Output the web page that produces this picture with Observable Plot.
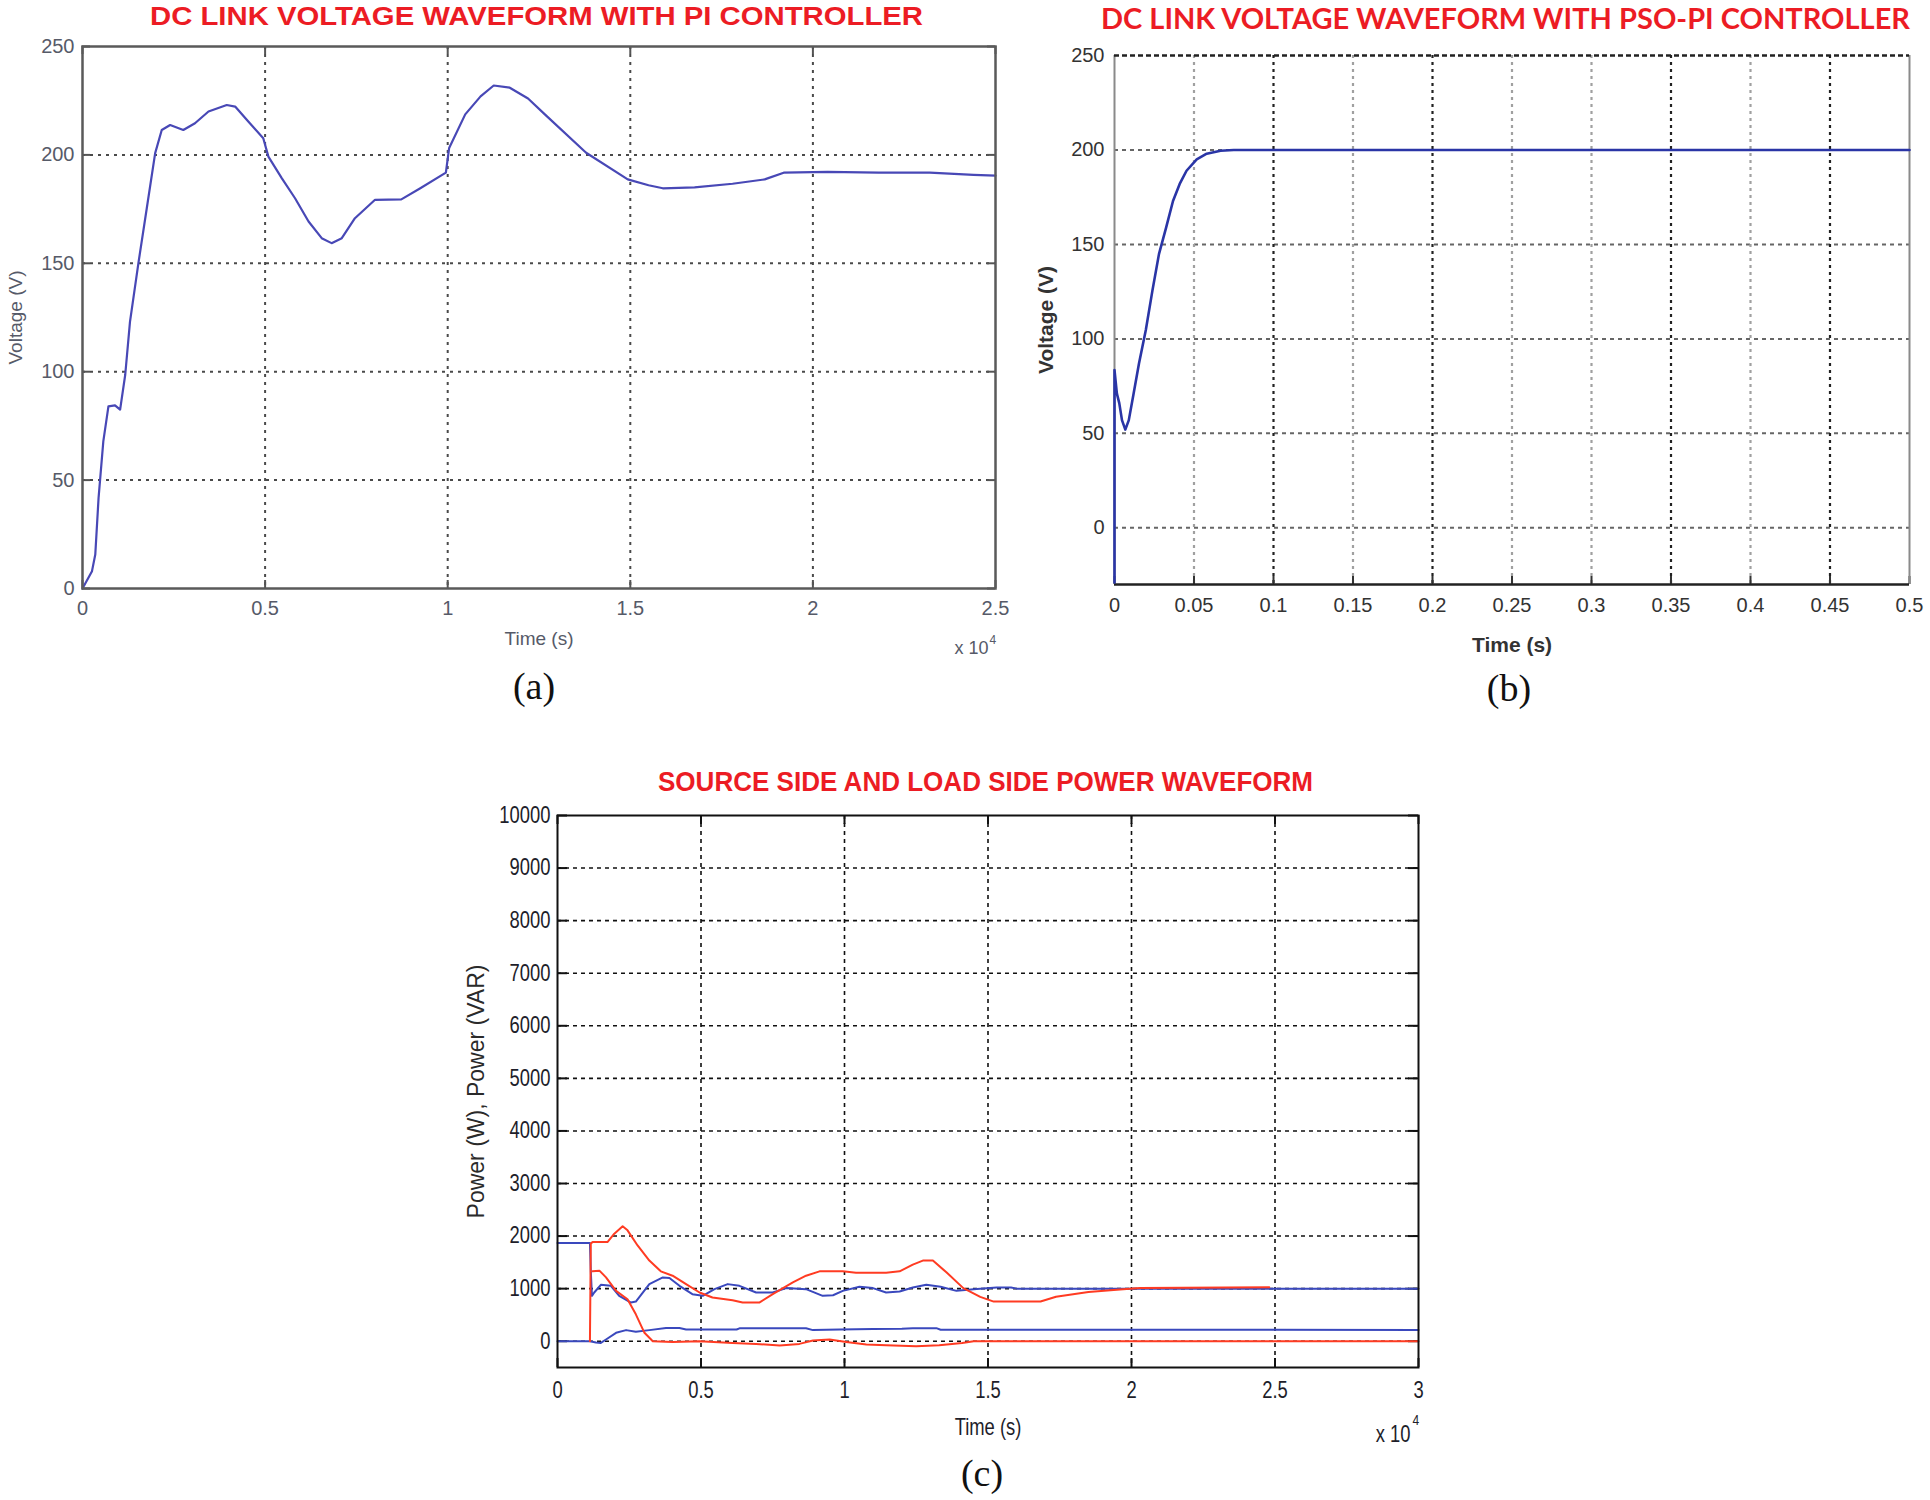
<!DOCTYPE html>
<html>
<head>
<meta charset="utf-8">
<script src="https://cdn.jsdelivr.net/npm/d3@7"></script>
<script src="https://cdn.jsdelivr.net/npm/@observablehq/plot@0.6"></script>
<style>
  html, body { margin: 0; padding: 0; background: #fff; }
  #root { position: relative; width: 1930px; height: 1500px; overflow: hidden; background: #fff; }
  .panel { position: absolute; }
  .panel svg { overflow: visible; max-width: none !important; }
</style>
</head>
<body>
<div id="root"></div>
<script>
// ---------- (a) DC link voltage with PI controller ----------
const piTime = [0, 0.026, 0.035, 0.044, 0.057, 0.071, 0.089, 0.103, 0.117, 0.130, 0.153, 0.176, 0.199, 0.217, 0.24, 0.276, 0.308, 0.345, 0.395, 0.418, 0.454, 0.495, 0.509, 0.546, 0.582, 0.619, 0.655, 0.682, 0.71, 0.746, 0.801, 0.873, 0.925, 0.995, 1.004, 1.048, 1.09, 1.126, 1.17, 1.22, 1.266, 1.379, 1.493, 1.55, 1.589, 1.676, 1.78, 1.868, 1.92, 2.04, 2.18, 2.32, 2.44, 2.5];
const piVolt = [0, 8, 15.7, 41.8, 67.9, 84, 84.5, 82.5, 98.6, 123, 150, 175.4, 200.8, 211.5, 213.8, 211.5, 214.6, 220, 223, 222.3, 215.4, 207.7, 199.2, 189.2, 180, 169.3, 161.6, 159.3, 161.6, 170.8, 179.3, 179.5, 184.6, 191.8, 203.2, 218.7, 227, 232, 231, 226, 218.7, 201, 188.7, 186, 184.6, 185, 186.7, 188.7, 191.8, 192.2, 191.8, 191.8, 190.8, 190.4];
const aXTicks = [0, 0.5, 1, 1.5, 2, 2.5];
const aYTicks = [0, 50, 100, 150, 200, 250];

// ---------- (b) DC link voltage with PSO-PI controller ----------
const psoTime = [0, 0, 0.0015, 0.003, 0.0047, 0.0068, 0.009, 0.012, 0.0154, 0.0197, 0.0239, 0.028, 0.0325, 0.0368, 0.041, 0.0453, 0.0517, 0.058, 0.0667, 0.075, 0.5];
const psoVolt = [-29, 83.5, 71, 66, 57, 52, 57, 71, 87, 104.7, 125.8, 145, 159, 173, 182, 189, 195, 198, 199.6, 200, 200];
const bXTicks = [0, 0.05, 0.1, 0.15, 0.2, 0.25, 0.3, 0.35, 0.4, 0.45, 0.5];
const bYTicks = [0, 50, 100, 150, 200, 250];
const bDarkGridX = [0.1, 0.2, 0.35, 0.45];
const bLightGridX = [0.05, 0.15, 0.25, 0.3, 0.4];

// ---------- (c) Source side and load side power ----------
const bluePTime = [0, 0.113, 0.116, 0.12, 0.128, 0.151, 0.186, 0.215, 0.256, 0.273, 0.32, 0.367, 0.39, 0.425, 0.47, 0.506, 0.547, 0.593, 0.634, 0.692, 0.75, 0.797, 0.866, 0.924, 0.96, 0.994, 1.052, 1.099, 1.145, 1.192, 1.238, 1.285, 1.335, 1.39, 1.45, 1.53, 1.58, 1.6, 3];
const blueP = [1866, 1866, 1342, 863, 927, 1073, 1054, 863, 735, 754, 1086, 1214, 1201, 1054, 895, 863, 990, 1086, 1054, 927, 927, 1010, 990, 863, 875, 958, 1035, 1010, 927, 946, 1022, 1073, 1035, 958, 990, 1022, 1022, 1000, 1000];
const blueQTime = [0, 0.113, 0.134, 0.151, 0.169, 0.204, 0.239, 0.273, 0.32, 0.378, 0.425, 0.448, 0.624, 0.634, 0.866, 0.89, 0.983, 1.099, 1.2, 1.238, 1.32, 1.335, 3];
const blueQ = [0, 0, -26, -32, 32, 160, 211, 179, 211, 250, 250, 222, 222, 245, 245, 211, 222, 232, 238, 248, 248, 218, 215];
const redPTime = [0.113, 0.116, 0.122, 0.174, 0.198, 0.227, 0.244, 0.279, 0.32, 0.36, 0.401, 0.448, 0.495, 0.54, 0.61, 0.645, 0.703, 0.75, 0.82, 0.866, 0.913, 0.994, 1.04, 1.145, 1.192, 1.238, 1.273, 1.308, 1.355, 1.414, 1.473, 1.52, 1.683, 1.737, 1.85, 1.96, 2.03, 2.48];
const redP = [0, 1860, 1885, 1885, 2045, 2185, 2109, 1821, 1534, 1329, 1246, 1086, 927, 831, 780, 735, 735, 895, 1118, 1246, 1329, 1329, 1304, 1304, 1329, 1457, 1534, 1534, 1310, 1010, 843, 754, 754, 847, 938, 984, 1011, 1025];
const redQTime = [0.122, 0.146, 0.169, 0.204, 0.244, 0.273, 0.303, 0.332, 0.401, 0.495, 0.61, 0.692, 0.774, 0.843, 0.89, 0.948, 1.006, 1.076, 1.145, 1.25, 1.33, 1.41, 1.45, 3];
const redQ = [1329, 1342, 1214, 958, 799, 511, 160, 0, -13, 0, -32, -51, -83, -51, 13, 32, -13, -64, -77, -96, -77, -32, 0, 0];
const cXTicks = [0, 0.5, 1, 1.5, 2, 2.5, 3];
const cYTicks = [0, 1000, 2000, 3000, 4000, 5000, 6000, 7000, 8000, 9000, 10000];

const root = document.getElementById("root");
const fmt = d => String(d);

function place(svg, left, top) {
  const d = document.createElement("div");
  d.className = "panel";
  d.style.left = left + "px";
  d.style.top = top + "px";
  d.appendChild(svg);
  root.appendChild(d);
}

// horizontally condense the text elements of a group (emulates a narrow font)
function condense(svg, selector, k) {
  svg.querySelectorAll(selector).forEach(t => {
    const tr = t.getAttribute("transform") || "";
    t.setAttribute("transform", tr + ` scale(${k},1)`);
  });
}

function addText(txt, o) {
  const el = document.createElement("div");
  el.textContent = txt;
  Object.assign(el.style, {
    position: "absolute", whiteSpace: "nowrap", fontFamily: o.font, fontSize: o.size + "px",
    fontWeight: o.weight || "normal", color: o.color, lineHeight: o.size + "px",
    left: "0px", top: (o.cy - (o.center ?? 0.49) * o.size) + "px", transformOrigin: "0 0"
  });
  root.appendChild(el);
  const w = el.getBoundingClientRect().width;
  const s = o.fit ? o.fit / w : 1;
  el.style.left = (o.cx - w * s / 2) + "px";
  el.style.transform = `scaleX(${s})`;
}

// ---------------- Panel (a) ----------------
{
  const W = 1020, H = 700, mL = 82, mT = 46, mR = 25, mB = 112;
  const fw = W - mL - mR, fh = H - mT - mB;
  const grid = {stroke: "#4a4a4a", strokeWidth: 2, strokeDasharray: "3,5"};
  const svg = Plot.plot({
    width: W, height: H, marginLeft: mL, marginTop: mT, marginRight: mR, marginBottom: mB,
    x: {domain: [0, 2.5]}, y: {domain: [0, 250]},
    style: {fontFamily: "'Liberation Sans', Arial, sans-serif", fontSize: "20px", color: "#565a68", background: "transparent", overflow: "visible"},
    marks: [
      Plot.ruleY(aYTicks.slice(1, -1), grid),
      Plot.ruleX(aXTicks.slice(1, -1), grid),
      Plot.ruleX(aXTicks, {insetTop: fh - 8, stroke: "#555", strokeWidth: 2}),
      Plot.ruleX(aXTicks, {insetBottom: fh - 8, stroke: "#555", strokeWidth: 2}),
      Plot.ruleY(aYTicks, {insetRight: fw - 8, stroke: "#555", strokeWidth: 2}),
      Plot.ruleY(aYTicks, {insetLeft: fw - 8, stroke: "#555", strokeWidth: 2}),
      Plot.line(piVolt, {x: piTime, y: piVolt, stroke: "#4848b6", strokeWidth: 2.2}),
      Plot.frame({stroke: "#5a5a5a", strokeWidth: 2.5}),
      Plot.axisX(aXTicks, {tickSize: 0, tickPadding: 12, tickFormat: fmt, label: null}),
      Plot.axisY(aYTicks, {tickSize: 0, tickPadding: 8, tickFormat: fmt, label: null}),
      Plot.text(["Time (s)"], {text: d => d, frameAnchor: "bottom", dy: 50, lineAnchor: "middle", textAnchor: "middle", fontSize: 19}),
      Plot.text(["Voltage (V)"], {text: d => d, frameAnchor: "left", dx: -67, rotate: -90, lineAnchor: "middle", textAnchor: "middle", fontSize: 19}),
      Plot.text(["x 10"], {text: d => d, frameAnchor: "bottom-right", dx: -7, dy: 60, lineAnchor: "middle", textAnchor: "end", fontSize: 18}),
      Plot.text(["4"], {text: d => d, frameAnchor: "bottom-right", dx: -6, dy: 52, lineAnchor: "middle", textAnchor: "start", fontSize: 12})
    ]
  });
  place(svg, 0, 0);
}

// ---------------- Panel (b) ----------------
{
  const W = 930, H = 700, mL = 114, mT = 55, mR = 21, mB = 116;
  const fw = W - mL - mR, fh = H - mT - mB;
  const svg = Plot.plot({
    width: W, height: H, marginLeft: mL, marginTop: mT, marginRight: mR, marginBottom: mB,
    x: {domain: [0, 0.5]}, y: {domain: [-30, 250]},
    style: {fontFamily: "'Liberation Sans', Arial, sans-serif", fontSize: "20px", color: "#333", background: "transparent", overflow: "visible"},
    marks: [
      Plot.ruleY(bYTicks.slice(0, -1), {stroke: "#666", strokeWidth: 2, strokeDasharray: "4,4"}),
      Plot.ruleX(bLightGridX, {stroke: "#a0a0a0", strokeWidth: 2.2, strokeDasharray: "3,4"}),
      Plot.ruleX(bDarkGridX, {stroke: "#222", strokeWidth: 2.2, strokeDasharray: "3,4"}),
      Plot.ruleX(bXTicks, {insetTop: fh - 8, stroke: "#333", strokeWidth: 2}),
      Plot.ruleX([0, 0.5], {stroke: "#8a8a8a", strokeWidth: 2}),
      Plot.ruleY([-30], {stroke: "#222", strokeWidth: 2.5}),
      Plot.ruleY([250], {stroke: "#222", strokeWidth: 2.5, strokeDasharray: "5,3"}),
      Plot.line(psoVolt, {x: psoTime, y: psoVolt, stroke: "#2a35a6", strokeWidth: 2.6}),
      Plot.axisX(bXTicks, {tickSize: 0, tickPadding: 13, tickFormat: fmt, label: null}),
      Plot.axisY(bYTicks, {tickSize: 0, tickPadding: 10, tickFormat: fmt, label: null}),
      Plot.text(["Time (s)"], {text: d => d, frameAnchor: "bottom", dy: 61, lineAnchor: "middle", textAnchor: "middle", fontSize: 21, fontWeight: "bold"}),
      Plot.text(["Voltage (V)"], {text: d => d, frameAnchor: "left", dx: -68, rotate: -90, lineAnchor: "middle", textAnchor: "middle", fontSize: 21, fontWeight: "bold"})
    ]
  });
  place(svg, 1000, 0);
}

// ---------------- Panel (c) ----------------
{
  const W = 1000, H = 720, mL = 117, mT = 55, mR = 22, mB = 113;
  const fw = W - mL - mR, fh = H - mT - mB;
  const grid = {stroke: "#111", strokeWidth: 1.6, strokeDasharray: "4,4"};
  const svg = Plot.plot({
    width: W, height: H, marginLeft: mL, marginTop: mT, marginRight: mR, marginBottom: mB,
    x: {domain: [0, 3]}, y: {domain: [-500, 10000]},
    style: {fontFamily: "'Liberation Sans', Arial, sans-serif", fontSize: "23px", color: "#1e1e2a", background: "transparent", overflow: "visible"},
    marks: [
      Plot.ruleY(cYTicks.slice(0, -1), grid),
      Plot.ruleX(cXTicks.slice(1, -1), grid),
      Plot.ruleX(cXTicks, {insetTop: fh - 9, stroke: "#111", strokeWidth: 2}),
      Plot.ruleX(cXTicks, {insetBottom: fh - 9, stroke: "#111", strokeWidth: 2}),
      Plot.ruleY(cYTicks, {insetRight: fw - 10, stroke: "#111", strokeWidth: 2}),
      Plot.ruleY(cYTicks, {insetLeft: fw - 10, stroke: "#111", strokeWidth: 2}),
      Plot.line(blueP, {x: bluePTime, y: blueP, stroke: "#3a48bd", strokeWidth: 2}),
      Plot.line(blueQ, {x: blueQTime, y: blueQ, stroke: "#3a48bd", strokeWidth: 2}),
      Plot.line(redP, {x: redPTime, y: redP, stroke: "#ff3b22", strokeWidth: 2}),
      Plot.line(redQ, {x: redQTime, y: redQ, stroke: "#ff3b22", strokeWidth: 2}),
      Plot.frame({stroke: "#111", strokeWidth: 2}),
      Plot.axisX(cXTicks, {tickSize: 0, tickPadding: 14, tickFormat: fmt, label: null}),
      Plot.axisY(cYTicks, {tickSize: 0, tickPadding: 7, tickFormat: fmt, label: null}),
      Plot.text(["Time (s)"], {text: d => d, frameAnchor: "bottom", dy: 60, lineAnchor: "middle", textAnchor: "middle", fontSize: 23, className: "narrow"}),
      Plot.text(["Power (W), Power (VAR)"], {text: d => d, frameAnchor: "left", dx: -81, rotate: -90, lineAnchor: "middle", textAnchor: "middle", fontSize: 23, fill: "#2a2a2a"}),
      Plot.text(["x 10"], {text: d => d, frameAnchor: "bottom-right", dx: -8, dy: 67, lineAnchor: "middle", textAnchor: "end", fontSize: 23, className: "narrow"}),
      Plot.text(["4"], {text: d => d, frameAnchor: "bottom-right", dx: -6, dy: 53, lineAnchor: "middle", textAnchor: "start", fontSize: 15, className: "narrow"})
    ]
  });
  condense(svg, 'g[aria-label="x-axis tick label"] text, g[aria-label="y-axis tick label"] text, .narrow text', 0.8);
  place(svg, 440, 760);
}

// ---------------- Titles and captions ----------------
const red = "#ec1c24";
addText("DC LINK VOLTAGE WAVEFORM WITH PI CONTROLLER", {cx: 536, cy: 16, font: "'Liberation Sans', Arial, sans-serif", size: 26, weight: "bold", color: red, fit: 773});
addText("DC LINK VOLTAGE WAVEFORM WITH PSO-PI CONTROLLER", {cx: 1505, cy: 17, font: "Lato, 'Open Sans', sans-serif", size: 28, weight: "bold", color: red, fit: 809, center: 0.45});
addText("SOURCE SIDE AND LOAD SIDE POWER WAVEFORM", {cx: 985, cy: 782, font: "'Liberation Sans', Arial, sans-serif", size: 28, weight: "bold", color: red, fit: 655});
const serif = "'Liberation Serif', 'Times New Roman', serif";
addText("(a)", {cx: 534, cy: 690, font: serif, size: 38, color: "#111", center: 0.6});
addText("(b)", {cx: 1509, cy: 692, font: serif, size: 38, color: "#111", center: 0.6});
addText("(c)", {cx: 982, cy: 1477, font: serif, size: 38, color: "#111", center: 0.6});
</script>
</body>
</html>
